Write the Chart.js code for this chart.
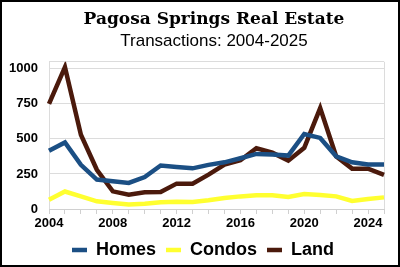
<!DOCTYPE html>
<html>
<head>
<meta charset="utf-8">
<script src="https://cdn.jsdelivr.net/npm/chart.js@4.4.1/dist/chart.umd.min.js"></script>
<style>
html,body{margin:0;padding:0;background:#fff;}
#wrap{width:400px;height:267px;box-sizing:border-box;border:2px solid #000;position:relative;background:#fff;}
canvas{display:block;}
</style>
</head>
<body>
<div id="wrap"><canvas id="c" width="396" height="263"></canvas></div>
<script>
const years = ['2004','2005','2006','2007','2008','2009','2010','2011','2012','2013','2014','2015','2016','2017','2018','2019','2020','2021','2022','2023','2024','2025'];
const homes  = [415,475,315,210,198,186,228,310,300,290,315,333,362,393,388,381,535,507,376,333,317,317];
const condos = [66,125,90,55,43,32,38,48,52,50,62,79,90,98,98,86,107,100,90,58,71,83];
const land   = [750,1012,530,280,126,102,120,121,181,181,245,317,348,433,402,345,436,720,376,288,288,243];
const yTicks = [0,250,500,750,1000];

const shiftPlugin = {
  id:'shiftBoxes',
  afterLayout(chart){
    chart.boxes.forEach(b=>{
      if (b.options && (b.options.text === 'Pagosa Springs Real Estate' || b.options.text === 'Transactions: 2004-2025')) {
        b.left += 21; b.right += 21;
      }
    });
    if (chart.legend) { chart.legend.left += 10; chart.legend.right += 10; }
  }
};

const chart = new Chart(document.getElementById('c'), {
  type: 'line',
  data: {
    labels: years,
    datasets: [
      {label:'Homes', data: homes, borderColor:'#1b4f84', backgroundColor:'#1b4f84', borderWidth:4.5, pointRadius:0, tension:0},
      {label:'Condos', data: condos, borderColor:'#ffff30', backgroundColor:'#ffff30', borderWidth:4.5, pointRadius:0, tension:0},
      {label:'Land', data: land, borderColor:'#4b1a0c', backgroundColor:'#4b1a0c', borderWidth:4.5, pointRadius:0, tension:0}
    ]
  },
  plugins:[shiftPlugin],
  options: {
    responsive:false,
    animation:false,
    layout:{padding:{left:0,right:14,top:0,bottom:-4}},
    plugins:{
      title:{display:true, text:'Pagosa Springs Real Estate', color:'#000', font:{family:'DejaVu Serif', weight:'bold', size:17}, padding:{top:7,bottom:0}},
      subtitle:{display:true, text:'Transactions: 2004-2025', color:'#000', font:{family:'Liberation Sans', size:17}, padding:{top:2,bottom:10}},
      legend:{position:'bottom', labels:{usePointStyle:true, pointStyle:'line', pointStyleWidth:15, color:'#000', font:{family:'Liberation Sans', weight:'bold', size:18}, padding:10}},
      tooltip:{enabled:false}
    },
    scales:{
      x:{
        type:'category',
        offset:false,
        afterFit:(ax)=>{ ax.height = 22; },
        border:{display:true, color:'#d0d0d0'},
        grid:{display:true, drawOnChartArea:true, tickLength:5,
              color:(ctx)=> (ctx.index === years.length-1 || ctx.index === 0) ? '#dcdcdc' : 'rgba(0,0,0,0)',
              tickColor:'#d0d0d0'},
        ticks:{autoSkip:false, maxRotation:0, color:'#000', padding:2,
               font:{family:'Liberation Sans', weight:'bold', size:13},
               callback:(v,i)=> (i % 4 === 0) ? years[i] : ''}
      },
      y:{
        min:0, max:1050,
        afterFit:(ax)=>{ ax.width = 47; },
        afterBuildTicks:(ax)=>{ ax.ticks = yTicks.map(v=>({value:v})).concat([{value:1050}]); },
        border:{display:false},
        grid:{color:'#dcdcdc', drawTicks:false},
        ticks:{color:'#000', padding:11, font:{family:'Liberation Sans', weight:'bold', size:13},
               callback:(v)=> v===1050 ? '' : v}
      }
    }
  }
});
</script>
</body>
</html>
